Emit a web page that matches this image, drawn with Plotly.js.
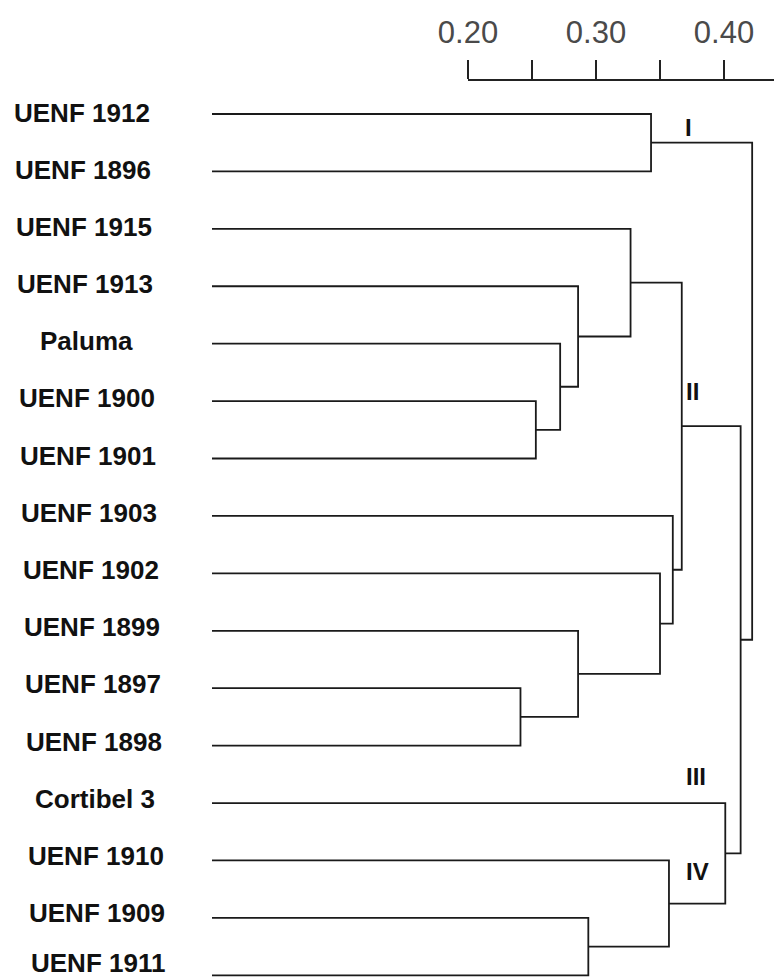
<!DOCTYPE html>
<html>
<head>
<meta charset="utf-8">
<script src="https://cdn.plot.ly/plotly-3.0.1.min.js"></script>
<style>html,body{margin:0;padding:0;background:#fff;}#chart{width:774px;height:980px;}</style>
</head>
<body>
<div id="chart"></div>
<script>
// Leaf labels (top to bottom)
const leafLabels = ['UENF 1912','UENF 1896','UENF 1915','UENF 1913','Paluma','UENF 1900','UENF 1901',
  'UENF 1903','UENF 1902','UENF 1899','UENF 1897','UENF 1898','Cortibel 3','UENF 1910','UENF 1909','UENF 1911'];
// Merges: [childA, childB] ; new node ids start at 16
const mergeLeft  = [5, 4, 3, 2, 10, 9, 8, 7, 19, 14, 13, 12, 0, 24, 28];
const mergeRight = [6, 16, 17, 18, 11, 20, 21, 22, 23, 15, 25, 26, 1, 27, 29];
const mergeHeight = [0.253, 0.272, 0.286, 0.327, 0.241, 0.286, 0.350, 0.360, 0.367, 0.294, 0.357, 0.401, 0.343, 0.413, 0.422];
// Group labels
const groupNames = ['I', 'II', 'III', 'IV'];
const groupX = [0.372, 0.375, 0.378, 0.379];
const groupY = [0.23, 4.83, 11.53, 13.20];
// Scale ticks
const scaleTicks = [0.20, 0.25, 0.30, 0.35, 0.40];
const scaleText = ['0.20', '', '0.30', '', '0.40'];

const nLeaf = leafLabels.length;
const nodeX = [], nodeY = [];
for (let i = 0; i < nLeaf; i++) { nodeX.push(0); nodeY.push(i); }
const lx = [], ly = [];
for (let k = 0; k < mergeLeft.length; k++) {
  const a = mergeLeft[k], b = mergeRight[k], h = mergeHeight[k];
  lx.push(nodeX[a], h, h, nodeX[b], null);
  ly.push(nodeY[a], nodeY[a], nodeY[b], nodeY[b], null);
  nodeX.push(h); nodeY.push((nodeY[a] + nodeY[b]) / 2);
}

const traces = [
  {x: lx, y: ly, mode: 'lines', line: {color: '#1a1a1a', width: 1.8}, hoverinfo: 'skip', showlegend: false, xaxis: 'x', yaxis: 'y'},
  {x: [scaleTicks[0]], y: [0], mode: 'markers', marker: {opacity: 0}, hoverinfo: 'skip', showlegend: false, xaxis: 'x2', yaxis: 'y'}
];

const annotations = [];
leafLabels.forEach((t, i) => annotations.push({
  text: t, x: (82 + 16 * i / 15) / 774, xref: 'paper', y: i, yref: 'y', xanchor: 'center', yanchor: 'middle',
  yshift: 1.5 + 3.5 * i / 15 + (i === nLeaf - 1 ? 7 : 0),
  showarrow: false, font: {family: 'Liberation Sans, Arial, sans-serif', size: 26, weight: 'bold', color: '#111'}
}));
groupNames.forEach((t, i) => annotations.push({
  text: t, x: groupX[i], xref: 'x', y: groupY[i], yref: 'y', xanchor: 'center', yanchor: 'middle',
  showarrow: false, font: {family: 'Liberation Sans, Arial, sans-serif', size: 24, weight: 'bold', color: '#111'}
}));

const layout = {
  width: 774, height: 980,
  margin: {l: 0, r: 0, t: 0, b: 0, pad: 0},
  paper_bgcolor: '#fff', plot_bgcolor: 'rgba(0,0,0,0)',
  showlegend: false,
  xaxis: {range: [-0.165625, 0.439063], visible: false, domain: [0, 1], fixedrange: true},
  xaxis2: {
    domain: [468/774, 1], range: [0.2, 0.439063], anchor: 'free', position: 1 - 80/980, side: 'top',
    tickmode: 'array', tickvals: scaleTicks, ticktext: scaleText,
    ticks: 'outside', ticklen: 19, tickwidth: 2, tickcolor: '#222',
    showline: true, linecolor: '#222', linewidth: 2, showgrid: false, zeroline: false,
    ticklabelstandoff: 5,
    tickfont: {family: 'Liberation Sans, Arial, sans-serif', size: 31, color: '#4a4a4a'}
  },
  yaxis: {range: [15.0818, -1.9854], visible: false, domain: [0, 1], fixedrange: true},
  annotations: annotations
};

Plotly.newPlot('chart', traces, layout, {displayModeBar: false, staticPlot: true});
</script>
</body>
</html>
